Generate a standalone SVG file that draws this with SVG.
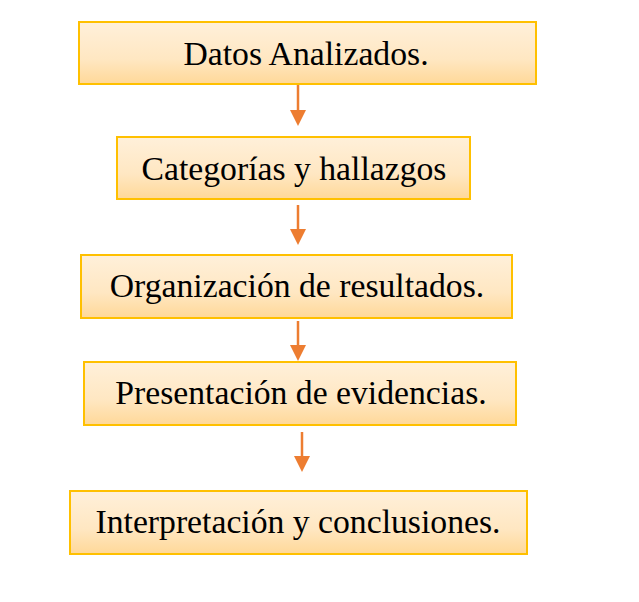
<svg xmlns="http://www.w3.org/2000/svg" width="639" height="602" viewBox="0 0 639 602">
<defs>
<linearGradient id="g" x1="0" y1="0" x2="0" y2="1">
<stop offset="0" stop-color="#FFF0DA"/>
<stop offset="0.6" stop-color="#FFE7C2"/>
<stop offset="1" stop-color="#FFD898"/>
</linearGradient>
</defs>
<style>
.box{fill:url(#g);stroke:#FFC000;stroke-width:2}
.lbl{font-family:"Liberation Serif","Times New Roman",serif;font-size:33.7px;fill:#000;text-anchor:middle}
.con{stroke:#ED7D31;stroke-width:2.5;fill:none}
.head{fill:#ED7D31}
</style>
<g id="n1"><rect class="box" x="79" y="22" width="457" height="62"/><text class="lbl" x="306" y="65">Datos Analizados.</text></g>
<g id="n2"><rect class="box" x="117" y="137" width="353" height="62"/><text class="lbl" x="294" y="180">Categorías y hallazgos</text></g>
<g id="n3"><rect class="box" x="81" y="255" width="431" height="63"/><text class="lbl" x="297" y="297">Organización de resultados.</text></g>
<g id="n4"><rect class="box" x="84" y="362" width="432" height="63"/><text class="lbl" x="301" y="404">Presentación de evidencias.</text></g>
<g id="n5"><rect class="box" x="70" y="491" width="457" height="63"/><text class="lbl" x="298" y="533">Interpretación y conclusiones.</text></g>
<g id="connectors">
<line class="con" x1="298" y1="85" x2="298" y2="112"/><path class="head" d="M290,110 L306,110 L298,126 Z"/>
<line class="con" x1="298" y1="205" x2="298" y2="231"/><path class="head" d="M290,229 L306,229 L298,245 Z"/>
<line class="con" x1="298" y1="321" x2="298" y2="347"/><path class="head" d="M290,345 L306,345 L298,361 Z"/>
<line class="con" x1="302" y1="432" x2="302" y2="458"/><path class="head" d="M294,456 L310,456 L302,472 Z"/>
</g>
</svg>
